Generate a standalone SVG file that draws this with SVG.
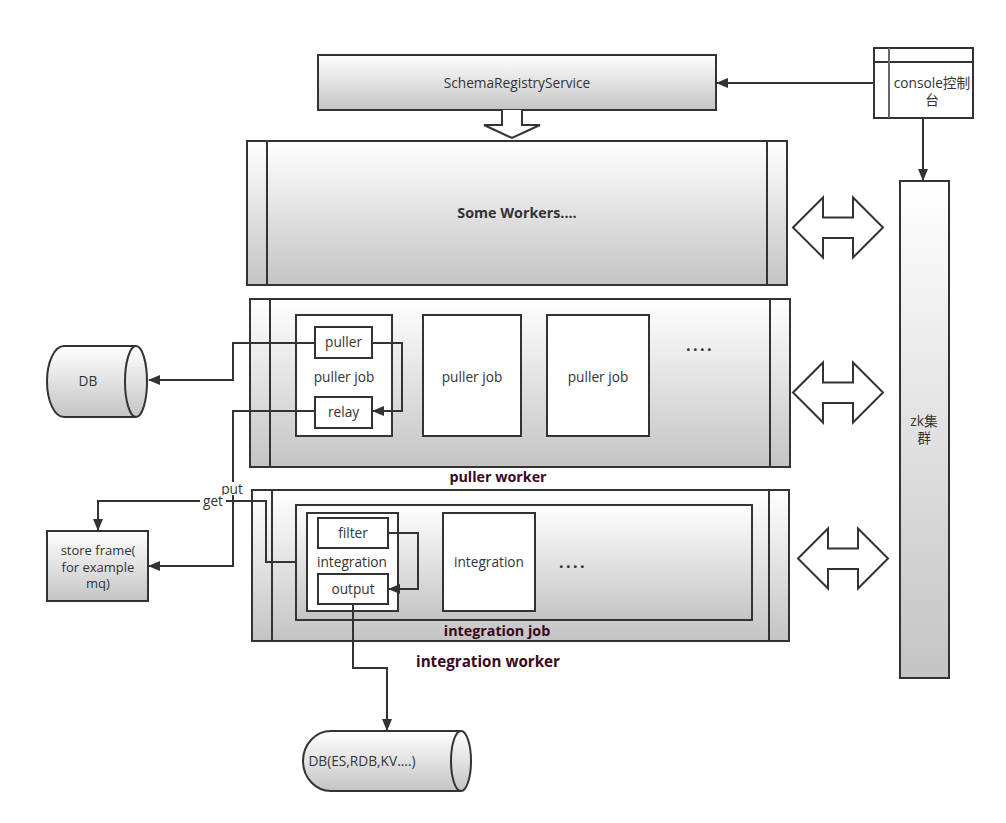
<svg xmlns="http://www.w3.org/2000/svg" width="1006" height="823" viewBox="0 0 1006 823">
<defs>
<linearGradient id="g" x1="0" y1="0" x2="0" y2="1">
<stop offset="0" stop-color="#ffffff"/>
<stop offset="1" stop-color="#c4c4c4"/>
</linearGradient>
<marker id="ah" markerWidth="12" markerHeight="10" refX="11" refY="5" orient="auto" markerUnits="userSpaceOnUse">
<path d="M0,0 L12,5 L0,10 Z" fill="#333"/>
</marker>
<style>
.box{fill:url(#g);stroke:#333;stroke-width:2}
.wbox{fill:#fff;stroke:#333;stroke-width:2}
.ln{fill:none;stroke:#333;stroke-width:2}
.t{font-family:"Open Sans","Noto Sans",sans-serif;font-size:13.7px;fill:#333;text-anchor:middle}
.cj{font-family:"Open Sans","Noto Sans CJK SC",sans-serif}
.b{font-family:"Open Sans","Noto Sans",sans-serif;font-size:14.3px;font-weight:bold;fill:#3a0a1c;text-anchor:middle}
.c{fill:none;stroke:#333;stroke-width:2}
.arr{fill:#fff;stroke:#333;stroke-width:2}
.dots{font-family:"Open Sans","Noto Sans",sans-serif;font-size:16px;font-weight:bold;fill:#333;text-anchor:middle;letter-spacing:2.5px}
</style>
</defs>
<rect width="1006" height="823" fill="#fff"/>

<g id="schema">
<rect class="box" x="318" y="55" width="398" height="55"/>
<text class="t" x="517" y="88">SchemaRegistryService</text>
</g>

<g id="console">
<rect class="wbox" x="874" y="48" width="99" height="70"/>
<line x1="874" y1="62" x2="973" y2="62" stroke="#333" stroke-width="2"/>
<line x1="889" y1="48" x2="889" y2="118" stroke="#666" stroke-width="2"/>
<text class="t cj" x="932" y="88">console控制</text>
<text class="t cj" x="932" y="105">台</text>
</g>

<g id="blockarrow">
<path class="arr" d="M502,110 L502,125 L484,125 L512,138 L540,125 L522,125 L522,110"/>
</g>

<g id="someworkers">
<rect class="box" x="247" y="141" width="540" height="144"/>
<line class="ln" x1="267" y1="141" x2="267" y2="285"/>
<line class="ln" x1="767" y1="141" x2="767" y2="285"/>
<text class="b" x="517" y="218" style="fill:#333">Some Workers....</text>
</g>

<g id="zk">
<rect class="box" x="900" y="181" width="49" height="497"/>
<text class="t cj" x="924" y="426">zk集</text>
<text class="t cj" x="924" y="443">群</text>
</g>

<g id="dbl1"><path class="arr" d="M793,227.5 L823,197.5 L823,217.5 L853,217.5 L853,197.5 L883,227.5 L853,257.5 L853,238 L823,238 L823,257.5 Z"/></g>
<g id="dbl2"><path class="arr" d="M793,392.5 L823,362.5 L823,382.5 L853,382.5 L853,362.5 L883,392.5 L853,422.5 L853,403 L823,403 L823,422.5 Z"/></g>
<g id="dbl3"><path class="arr" d="M798,558.5 L828,528.5 L828,548.5 L858,548.5 L858,528.5 L888,558.5 L858,588.5 L858,569 L828,569 L828,588.5 Z"/></g>

<g id="pullerworker">
<rect class="box" x="250" y="299" width="540" height="168"/>
<line class="ln" x1="270" y1="299" x2="270" y2="467"/>
<line class="ln" x1="770" y1="299" x2="770" y2="467"/>
<text class="b" x="498" y="482">puller worker</text>
</g>

<g id="pullerjob1">
<rect class="wbox" x="296" y="315" width="96" height="121"/>
<text class="t" x="344" y="382">puller job</text>
</g>
<g id="puller">
<rect class="wbox" x="315" y="327" width="57" height="31"/>
<text class="t" x="343.5" y="347">puller</text>
</g>
<g id="relay">
<rect class="wbox" x="315" y="397" width="57" height="31"/>
<text class="t" x="343.5" y="417">relay</text>
</g>
<g id="pullerjob2">
<rect class="wbox" x="423" y="315" width="98" height="121"/>
<text class="t" x="472" y="382">puller job</text>
</g>
<g id="pullerjob3">
<rect class="wbox" x="547" y="315" width="102" height="121"/>
<text class="t" x="598" y="382">puller job</text>
</g>
<g id="dots1"><text class="dots" x="700" y="355">····</text></g>

<g id="integrationworker">
<rect class="box" x="252" y="490" width="537" height="151"/>
<line class="ln" x1="272" y1="490" x2="272" y2="641"/>
<line class="ln" x1="769" y1="490" x2="769" y2="641"/>
<text class="b" x="488" y="667" style="font-size:15.2px">integration worker</text>
</g>
<g id="integrationjob">
<rect class="box" x="296" y="505" width="456" height="115"/>
<text class="b" x="497" y="636">integration job</text>
</g>
<g id="integration1">
<rect class="wbox" x="307" y="513" width="91" height="98"/>
<text class="t" x="352" y="567">integration</text>
</g>
<g id="filter">
<rect class="wbox" x="318" y="518" width="70" height="30"/>
<text class="t" x="353" y="538">filter</text>
</g>
<g id="output">
<rect class="wbox" x="318" y="574" width="70" height="30"/>
<text class="t" x="353" y="594">output</text>
</g>
<g id="integration2">
<rect class="wbox" x="443" y="513" width="92" height="98"/>
<text class="t" x="489" y="567">integration</text>
</g>
<g id="dots2"><text class="dots" x="573" y="572">····</text></g>

<g id="db1">
<path class="box" d="M64,346 L136,346 A11,35.5 0 0 1 136,417 L64,417 A17,35.5 0 0 1 64,346 Z"/>
<path class="c" d="M136,346 A11,35.5 0 0 0 136,417"/>
<text class="t" x="88" y="386">DB</text>
</g>

<g id="storeframe">
<rect class="box" x="47" y="531" width="101" height="70"/>
<text class="t" x="98" y="555" style="font-size:13px">store frame(</text>
<text class="t" x="98" y="571.5" style="font-size:13px">for example</text>
<text class="t" x="98" y="588" style="font-size:13px">mq)</text>
</g>

<g id="db2">
<path class="box" d="M331,731 L461,731 A10,30 0 0 1 461,791 L331,791 A28,30 0 0 1 331,731 Z"/>
<path class="c" d="M461,731 A10,30 0 0 0 461,791"/>
<text class="t" x="362" y="766">DB(ES,RDB,KV....)</text>
</g>

<g id="connectors">
<path class="c" d="M873,83 L717,83" marker-end="url(#ah)"/>
<path class="c" d="M923,118 L923,180" marker-end="url(#ah)"/>
<path class="c" d="M315,343 L233,343 L233,380 L149,380" marker-end="url(#ah)"/>
<path class="c" d="M372,343 L402,343 L402,411 L373,411" marker-end="url(#ah)"/>
<path class="c" d="M315,411 L233,411 L233,566 L149,566" marker-end="url(#ah)"/>
<path class="c" d="M296,562 L266,562 L266,501 L98,501 L98,530" marker-end="url(#ah)"/>
<path class="c" d="M388,533 L418,533 L418,589 L389,589" marker-end="url(#ah)"/>
<path class="c" d="M353,604 L353,668 L387,668 L387,730" marker-end="url(#ah)"/>
<rect x="220" y="482" width="24" height="13" fill="#fff"/>
<text class="t" x="232" y="494">put</text>
<rect x="200" y="495" width="26" height="13" fill="#fff"/>
<text class="t" x="213" y="506">get</text>
</g>
</svg>
